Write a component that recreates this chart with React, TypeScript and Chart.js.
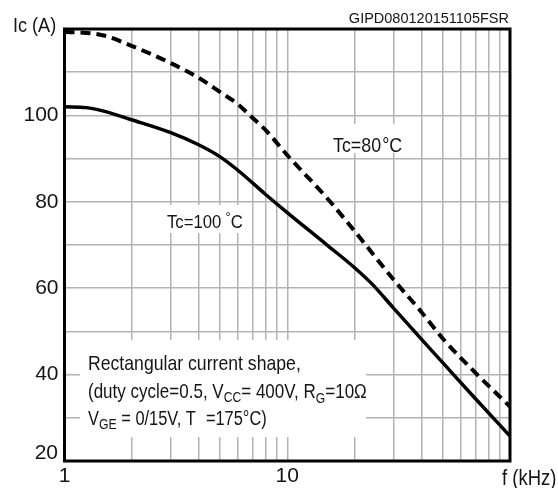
import React, { useEffect, useRef } from "react";
import { Chart, registerables } from "chart.js";

Chart.register(...registerables);

// ---- data ----
const freqTc100 = [1, 1.25, 1.5, 2, 3, 4, 5, 6, 8, 10, 15, 20, 24, 30, 40, 50, 70, 100];
const icTc100 = [102, 101.8, 101, 99, 96, 93.2, 90.4, 87.3, 81.7, 77.5, 70.1, 64.8, 61, 55.4, 48.2, 42.7, 34.4, 25.8];

const freqTc80 = [1, 1.25, 1.5, 2, 3, 4, 5, 6, 7, 8, 10, 15, 20, 30, 40, 50, 70, 100];
const icTc80 = [119.3, 119.1, 118.5, 116.1, 112.1, 108.7, 105.4, 102.6, 99.4, 96.6, 90.8, 81, 73.3, 62, 54.5, 48.3, 40.4, 32.6];

const xGridTicks = [1, 2, 3, 4, 5, 6, 7, 8, 9, 10, 20, 30, 40, 50, 60, 70, 80, 90, 100];
const xTickLabels = [1, 10];
const yTickLabels = [40, 60, 80, 100];
const yBottomLabel = 20;

const FONT = '"Liberation Sans", Arial, sans-serif';
const TEXT = "#151515";

type Seg = { t: string; s: number; dy?: number; gap?: number };

// draws a run of text pieces, horizontally condensed by sx (narrow typeface look)
function drawSegments(ctx: CanvasRenderingContext2D, x: number, y: number, sx: number, segs: Seg[]) {
  ctx.save();
  ctx.translate(x, y);
  ctx.scale(sx, 1);
  let cx = 0;
  for (const seg of segs) {
    if (seg.gap) cx += seg.gap / sx;
    ctx.font = `${seg.s}px ${FONT}`;
    ctx.fillText(seg.t, cx, seg.dy || 0);
    cx += ctx.measureText(seg.t).width;
  }
  ctx.restore();
}

const annotations = {
  id: "annotations",
  beforeDatasetsDraw(chart: any) {
    const ctx: CanvasRenderingContext2D = chart.ctx;
    ctx.save();
    ctx.fillStyle = "#ffffff";
    ctx.fillRect(80, 340, 286, 97);
    ctx.fillRect(160, 205, 90, 28);
    ctx.fillRect(328, 124, 77, 29);

    ctx.fillStyle = TEXT;
    ctx.textBaseline = "alphabetic";
    ctx.textAlign = "left";
    // curve labels
    drawSegments(ctx, 333, 152, 0.85, [{ t: "Tc=80", s: 21 }, { t: "°C", s: 21, gap: 1 }]);
    drawSegments(ctx, 167, 228, 0.88, [{ t: "Tc=100", s: 19 }, { t: "°", s: 15, dy: -6, gap: 4 }, { t: "C", s: 19 }]);

    // conditions box
    drawSegments(ctx, 88, 370, 0.84, [{ t: "Rectangular current shape,", s: 21 }]);
    drawSegments(ctx, 88, 398, 0.81, [
      { t: "(duty cycle=0.5, V", s: 21 },
      { t: "CC", s: 15, dy: 4 },
      { t: "= 400V, R", s: 21 },
      { t: "G", s: 15, dy: 5 },
      { t: "=10Ω", s: 21 },
    ]);
    drawSegments(ctx, 88, 425, 0.82, [
      { t: "V", s: 20 },
      { t: "GE", s: 15, dy: 4 },
      { t: " = 0/15V, T", s: 20 },
      { t: "=175°C)", s: 20, gap: 10 },
    ]);
    ctx.restore();
  },
  afterDraw(chart: any) {
    const ctx: CanvasRenderingContext2D = chart.ctx;
    const a = chart.chartArea;
    const yScale = chart.scales.y;
    ctx.save();
    ctx.strokeStyle = "#000";
    ctx.lineWidth = 3;
    ctx.strokeRect(a.left, a.top, a.right - a.left, a.bottom - a.top);

    ctx.fillStyle = TEXT;
    ctx.textBaseline = "alphabetic";
    ctx.textAlign = "left";
    drawSegments(ctx, 13, 32, 0.86, [{ t: "Ic (A)", s: 21 }]);
    drawSegments(ctx, 502, 485, 0.84, [{ t: "f (kHz)", s: 22 }]);
    ctx.font = `14.5px ${FONT}`;
    ctx.textAlign = "right";
    ctx.fillText("GIPD080120151105FSR", 509, 23);
    // bottom y label, raised above the axis line
    ctx.font = `21px ${FONT}`;
    ctx.textAlign = "right";
    ctx.textBaseline = "middle";
    ctx.fillText(String(yBottomLabel), a.left - 6.5, yScale.getPixelForValue(yBottomLabel) - 8);
    ctx.restore();
  },
};

export default function App() {
  const ref = useRef<HTMLCanvasElement>(null);
  useEffect(() => {
    if (!ref.current) return;
    const chart = new Chart(ref.current, {
      type: "line",
      data: {
        datasets: [
          {
            label: "Tc=80°C",
            data: freqTc80.map((f, i) => ({ x: f, y: icTc80[i] })),
            borderColor: "#000",
            borderWidth: 4,
            borderDash: [10, 6],
            pointRadius: 0,
            cubicInterpolationMode: "monotone",
            fill: false,
          },
          {
            label: "Tc=100°C",
            data: freqTc100.map((f, i) => ({ x: f, y: icTc100[i] })),
            borderColor: "#000",
            borderWidth: 3.5,
            pointRadius: 0,
            cubicInterpolationMode: "monotone",
            fill: false,
          },
        ],
      },
      options: {
        animation: false,
        responsive: false,
        devicePixelRatio: 1,
        layout: { padding: { left: 0, top: 29, right: 48, bottom: 0 } },
        plugins: { legend: { display: false }, tooltip: { enabled: false } },
        scales: {
          x: {
            type: "logarithmic",
            min: 1,
            max: 100,
            border: { display: false },
            grid: { color: "#b3b3b3", lineWidth: 1.5, drawTicks: false },
            afterBuildTicks: (s: any) => {
              s.ticks = xGridTicks.map((v) => ({ value: v }));
            },
            ticks: {
              autoSkip: false,
              maxRotation: 0,
              padding: 3,
              color: TEXT,
              font: { family: FONT, size: 21 },
              callback: (v: any) => (xTickLabels.includes(Number(v)) ? String(v) : ""),
            },
            afterFit: (s: any) => {
              s.height = 27;
            },
          },
          y: {
            type: "linear",
            min: 20,
            max: 120,
            border: { display: false },
            grid: { color: "#b3b3b3", lineWidth: 1.5, drawTicks: false },
            ticks: {
              stepSize: 10,
              padding: 6,
              color: TEXT,
              font: { family: FONT, size: 21 },
              callback: (v: any) => (yTickLabels.includes(Number(v)) ? String(v) : ""),
            },
            afterFit: (s: any) => {
              s.width = 64.5;
            },
          },
        },
      },
      plugins: [annotations],
    } as any);
    return () => chart.destroy();
  }, []);
  return (
    <div style={{ position: "absolute", left: 0, top: 0, width: 558, height: 488, background: "#fff" }}>
      <canvas ref={ref} width={558} height={488} style={{ display: "block" }} />
    </div>
  );
}
